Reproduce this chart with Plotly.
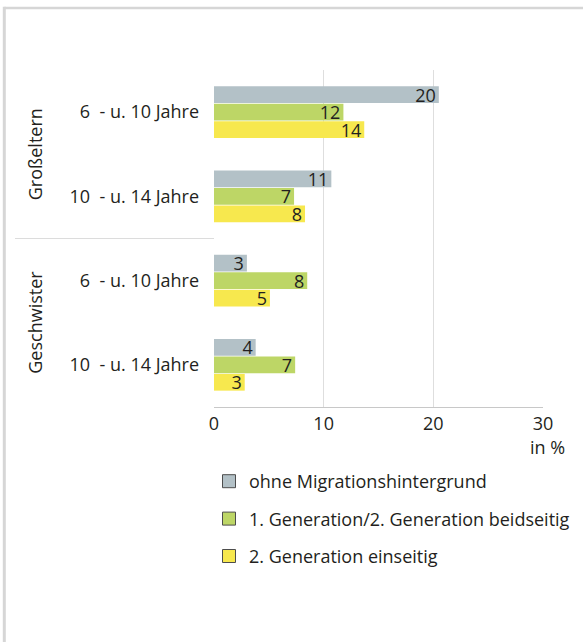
import plotly.graph_objects as go

groups = ["Großeltern", "Großeltern", "Geschwister", "Geschwister"]
ages = ["6\u00a0 - u. 10 Jahre", "10\u00a0 - u. 14 Jahre", "6\u00a0 - u. 10 Jahre", "10\u00a0 - u. 14 Jahre"]
categories = [g + "|" + a for g, a in zip(groups, ages)]

series_names = ["ohne Migrationshintergrund",
                "1. Generation/2. Generation beidseitig",
                "2. Generation einseitig"]
ohne = [20.5, 10.7, 3.0, 3.8]
gen1 = [11.8, 7.3, 8.5, 7.4]
gen2 = [13.7, 8.3, 5.1, 2.8]
series_values = [ohne, gen1, gen2]
colors = ["#b3c1c7", "#bdd666", "#f7e84e"]

x_ticks = [0, 10, 20, 30]

FONT = "Open Sans"
TXT = "#231f20"
FS = 18

fig = go.Figure()
for name, vals, col in zip(series_names, series_values, colors):
    fig.add_trace(go.Bar(
        y=categories, x=vals, orientation="h", name=name,
        marker=dict(color=col, line=dict(width=0)),
        text=[f"{round(v):d}" for v in vals],
        textposition="inside", insidetextanchor="end",
        textfont=dict(family=FONT, size=FS, color=TXT),
        constraintext="none", textangle=0,
        showlegend=False, hoverinfo="skip",
    ))
# legend entries
for i, (name, col) in enumerate(zip(series_names, colors)):
    fig.add_trace(go.Scatter(
        y=[None], x=[None], mode="markers", name=name,
        marker=dict(symbol="square", size=13, color=col,
                    line=dict(width=1, color="#4d4d4d")),
        legendgroup=f"g{i}", showlegend=True,
    ))

W, H = 583, 642
ml, mr, mt, mb = 214, 40, 70, 235
pw, ph = W - ml - mr, H - mt - mb

def px2x(px):
    return (px - ml) / pw

def py2y(py):
    return (H - mb - py) / ph

shapes = [
    # frame
    dict(type="line", xref="paper", yref="paper", x0=px2x(4.3), x1=px2x(590),
         y0=py2y(8), y1=py2y(8), line=dict(color="#d6d6d6", width=2.5)),
    dict(type="line", xref="paper", yref="paper", x0=px2x(4.3), x1=px2x(4.3),
         y0=py2y(6.8), y1=py2y(650), line=dict(color="#d6d6d6", width=3)),
    # group separator
    dict(type="line", xref="paper", yref="y", x0=px2x(15), x1=0,
         y0=1.5, y1=1.5, line=dict(color="#dcdcdc", width=1)),
]

annotations = [
    dict(text="Großeltern", xref="paper", yref="y", x=px2x(35), y=0.5,
         xanchor="center", yanchor="middle",
         textangle=-90, showarrow=False, font=dict(family=FONT, size=FS, color=TXT)),
    dict(text="Geschwister", xref="paper", yref="y", x=px2x(35), y=2.5,
         xanchor="center", yanchor="middle",
         textangle=-90, showarrow=False, font=dict(family=FONT, size=FS, color=TXT)),
    dict(text="in %", xref="x", yref="paper", x=30, y=py2y(447), xshift=4,
         xanchor="center", yanchor="middle", showarrow=False,
         font=dict(family=FONT, size=FS, color=TXT)),
]

fig.update_layout(
    width=W, height=H,
    margin=dict(l=ml, r=mr, t=mt, b=mb),
    paper_bgcolor="white", plot_bgcolor="white",
    barmode="group", bargap=0.38, bargroupgap=0.04,
    font=dict(family=FONT, size=FS, color=TXT),
    shapes=shapes, annotations=annotations,
    legend=dict(x=px2x(209), y=py2y(463), xanchor="left", yanchor="top",
                font=dict(family=FONT, size=FS, color=TXT),
                tracegroupgap=11, itemclick=False, itemdoubleclick=False,
                bgcolor="rgba(0,0,0,0)"),
    xaxis=dict(range=[0, 30], tickvals=x_ticks, ticktext=[str(t) for t in x_ticks],
               showgrid=True, gridcolor="#dedede", gridwidth=1,
               zeroline=False, showline=True, linecolor="#c8c8c8", linewidth=1,
               ticks="", ticklabelstandoff=0,
               tickfont=dict(family=FONT, size=FS, color=TXT)),
    yaxis=dict(categoryorder="array", categoryarray=categories,
               autorange="reversed", tickvals=categories, ticktext=ages,
               showgrid=False, zeroline=False, showline=False, ticks="",
               ticklabelstandoff=14,
               tickfont=dict(family=FONT, size=FS, color=TXT)),
)

fig.write_html("out.html", config={"displayModeBar": False},
               post_script="document.body.style.margin='0';")
